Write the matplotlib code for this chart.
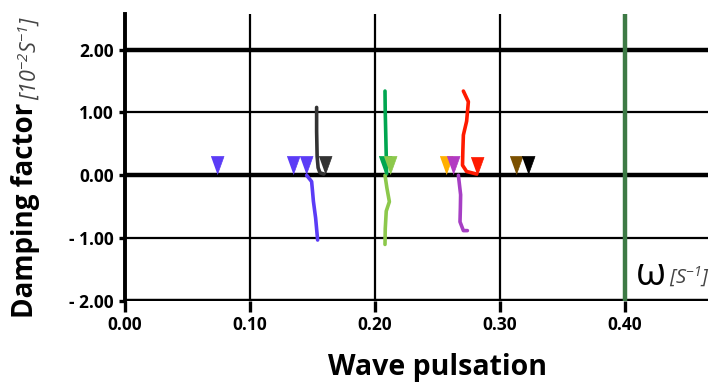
import numpy as np
import matplotlib
matplotlib.use("Agg")
import matplotlib.pyplot as plt

plt.rcParams['font.family'] = ['Open Sans', 'DejaVu Sans']
plt.rcParams['mathtext.fontset'] = 'custom'
plt.rcParams['mathtext.rm'] = 'Open Sans:italic'
plt.rcParams['mathtext.it'] = 'Open Sans:italic'

# tick labels
x_ticks = [0.0, 0.1, 0.2, 0.3, 0.4]
x_labels = ["0.00", "0.10", "0.20", "0.30", "0.40"]
y_ticks = [-2, -1, 0, 1, 2]
y_labels = ["- 2.00", "- 1.00", "0.00", "1.00", "2.00"]

# triangle markers (wave pulsation, damping factor)
mark_x = [0.0736, 0.134, 0.145, 0.160, 0.208, 0.212, 0.257, 0.262, 0.282, 0.313, 0.322]
mark_y = [0.16, 0.16, 0.16, 0.16, 0.16, 0.16, 0.16, 0.16, 0.15, 0.16, 0.16]
mark_c = ['#5b3cf6', '#5b3cf6', '#5b3cf6', '#333333', '#00a650', '#8cc84b',
          '#ffb000', '#b23ac2', '#ff1a00', '#7b5000', '#000000']

# root trajectories
gray_x = [0.1533, 0.1533, 0.1537, 0.1545, 0.1560, 0.1590]
gray_y = [1.08, 0.70, 0.30, 0.12, 0.04, 0.02]
blue_x = [0.1453, 0.1493, 0.1500, 0.1507, 0.1525, 0.1541]
blue_y = [0.00, -0.10, -0.25, -0.41, -0.68, -1.03]
green_x = [0.2080, 0.2082, 0.2086, 0.2090, 0.2093]
green_y = [1.34, 1.00, 0.66, 0.30, 0.02]
lgreen_x = [0.2080, 0.2095, 0.2115, 0.2090, 0.2082, 0.2080]
lgreen_y = [0.00, -0.20, -0.42, -0.57, -0.85, -1.10]
red_x = [0.2707, 0.2747, 0.2733, 0.2707, 0.2703, 0.2700, 0.2733, 0.2813]
red_y = [1.34, 1.17, 0.86, 0.64, 0.40, 0.16, 0.06, 0.02]
purple_x = [0.2667, 0.2685, 0.2683, 0.2680, 0.2707, 0.2739]
purple_y = [0.00, -0.31, -0.52, -0.74, -0.88, -0.88]

omega_line = 0.40

fig = plt.figure(figsize=(7.17, 3.85), dpi=100)
ax = fig.add_axes([125/717, 1 - 301/385, 583/717, 287/385])
ax.set_xlim(0, 0.4664)
ax.set_ylim(-2.0, 2.566)

# grid lines, thick on even values
for v in y_ticks:
    lw = 3.2 if v % 2 == 0 else 1.6
    ax.axhline(v, color='black', lw=lw, zorder=1)
for v in x_ticks[1:4]:
    ax.axvline(v, color='black', lw=1.6, zorder=1)
ax.axvline(omega_line, color='#3d7a45', lw=3.2, zorder=2)

for s in ['top', 'right', 'bottom']:
    ax.spines[s].set_visible(False)
ax.spines['left'].set_linewidth(2.8)

ax.set_xticks(x_ticks)
ax.set_xticklabels(x_labels, fontsize=12.5, fontweight='bold')
ax.set_yticks(y_ticks)
ax.set_yticklabels(y_labels, fontsize=12.5, fontweight='bold')
ax.tick_params(axis='x', length=8, width=2.4, pad=3)
ax.tick_params(axis='y', length=4, width=2.4, pad=4)

# trajectories
ax.plot(gray_x, gray_y, color='#333333', lw=2.6, zorder=3, solid_capstyle='round')
ax.plot(blue_x, blue_y, color='#5b3cf6', lw=2.6, zorder=3, solid_capstyle='round')
ax.plot(green_x, green_y, color='#00a650', lw=2.6, zorder=3, solid_capstyle='round')
ax.plot(lgreen_x, lgreen_y, color='#8cc84b', lw=2.6, zorder=3, solid_capstyle='round')
ax.plot(red_x, red_y, color='#ff1a00', lw=2.6, zorder=3, solid_capstyle='round')
ax.plot(purple_x, purple_y, color='#a63fc4', lw=2.6, zorder=3, solid_capstyle='round')

tri = [(-0.72, 1), (0.72, 1), (0, -1)]
for x, y, c in zip(mark_x, mark_y, mark_c):
    ax.plot(x, y, marker=tri, ms=13, color=c, mec=c, mew=0.5, ls='none', zorder=4)

ax.text(0.4085, -1.74, "\u03c9", fontsize=28, color='black', va='baseline')
ax.text(0.4355, -1.72, "[S$^{-1}$]", fontsize=14.5, style='italic', color='#444444', va='baseline')

fig.text(438/717, 1 - 368/385, "Wave pulsation", fontsize=20.5, fontweight='bold',
         ha='center', va='center')
fig.text(26/717, 1 - 318/385, "Damping factor", fontsize=20, fontweight='bold',
         rotation=90, ha='center', va='bottom')
fig.text(29/717, 1 - 100/385, "[10$^{-2}$S$^{-1}$]", fontsize=15.5, style='italic',
         color='#444444', rotation=90, ha='center', va='bottom')

fig.savefig("out.png", dpi=100)
